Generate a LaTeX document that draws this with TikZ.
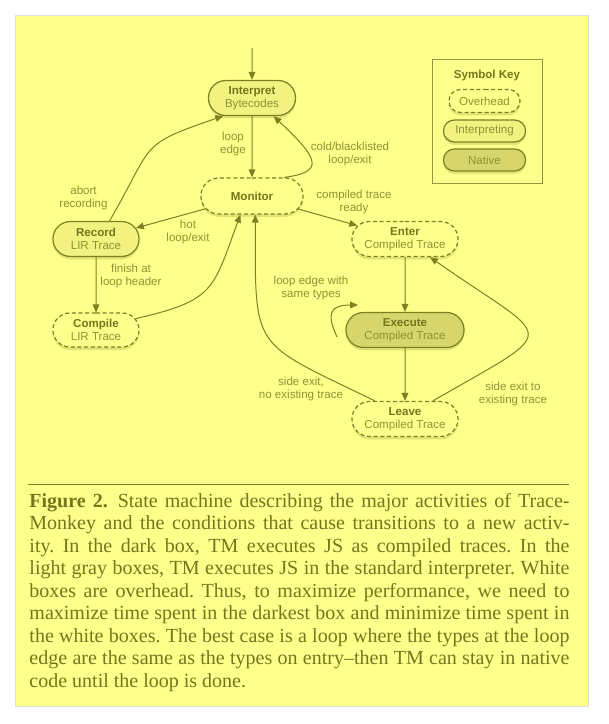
\documentclass[tikz,border=0pt]{standalone}
\usepackage{fontspec}
\setmainfont{Liberation Serif}
\setsansfont{Liberation Sans}
\usetikzlibrary{arrows.meta,shapes.misc,shadows}

\definecolor{bgyellow}{RGB}{255,255,140}
\definecolor{oliveline}{RGB}{128,128,35}
\definecolor{olivetext}{RGB}{118,118,28}
\definecolor{olivesoft}{RGB}{145,145,50}
\definecolor{interpfill}{RGB}{242,242,128}
\definecolor{nativefill}{RGB}{214,214,108}

\begin{document}
\begin{tikzpicture}[x=0.45pt, y=0.45pt,
    state/.style={rounded rectangle, draw=oliveline, line width=0.55pt, minimum height=15.75pt,
        inner xsep=2pt, inner ysep=1pt, align=center, text=olivetext,
        font=\sffamily\fontsize{5.2}{5.9}\selectfont,
        drop shadow={shadow xshift=0pt, shadow yshift=-1.3pt, fill=oliveline, opacity=0.22}},
    overheadbox/.style={state, fill=bgyellow, dash pattern=on 1.8pt off 1.2pt},
    interpbox/.style={state, fill=interpfill},
    nativebox/.style={state, fill=nativefill},
    lbl/.style={align=center, text=olivesoft, inner sep=0pt, font=\sffamily\fontsize{5.2}{5.9}\selectfont},
    arr/.style={-{Triangle[length=3.6pt, width=3pt]}, draw=oliveline, line width=0.45pt}
]
    % Page and yellow panel
    \useasboundingbox (0,0) rectangle (608,-724);
    \fill[white] (0,0) rectangle (608,-724);
    \draw[gray!25, fill=bgyellow] (15,-15) rectangle (588,-706);

    % The states
    \node[interpbox, minimum width=43.2pt] (interp) at (252,-98) {\textbf{Interpret}\\\textcolor{olivesoft}{Bytecodes}};
    \node[overheadbox, minimum width=50pt, minimum height=16.2pt] (monitor) at (252,-196) {\textbf{Monitor}};
    \node[interpbox, minimum width=42.75pt] (record) at (96,-239) {\textbf{Record}\\\textcolor{olivesoft}{LIR Trace}};
    \node[overheadbox, minimum width=42.75pt, minimum height=15.3pt] (compile) at (96,-330) {\textbf{Compile}\\\textcolor{olivesoft}{LIR Trace}};
    \node[overheadbox, minimum width=51.75pt] (enter) at (405,-239) {\textbf{Enter}\\\textcolor{olivesoft}{Compiled Trace}};
    \node[nativebox, minimum width=57.15pt] (execute) at (405,-330) {\textbf{Execute}\\\textcolor{olivesoft}{Compiled Trace}};
    \node[overheadbox, minimum width=51.75pt] (leave) at (405,-419) {\textbf{Leave}\\\textcolor{olivesoft}{Compiled Trace}};

    % Symbol key
    \draw[oliveline!85, line width=0.4pt] (432,-59) rectangle (542,-183);
    \node[lbl, text=olivetext] (keytitle) at (487,-76) {\textbf{Symbol Key}};
    \node[overheadbox, minimum width=36pt, minimum height=10.35pt] (keyover) at (484.5,-101) {\textcolor{olivesoft}{Overhead}};
    \node[interpbox, minimum width=41pt, minimum height=9.9pt] (keyinterp) at (484.5,-131) {\textcolor{olivesoft}{Interpreting}};
    \node[nativebox, minimum width=41pt, minimum height=9.9pt] (keynative) at (484.5,-160) {\textcolor{olivesoft}{Native}};

    % Transitions
    \coordinate (entry) at (252,-48);
    \draw[arr] (entry) -- (interp);
    \draw[arr] (interp) -- (monitor);
    \draw[arr] (monitor.30) .. controls (326,-172) and (318,-158) .. (interp.-40);
    \draw[arr] (record.53) to[out=60, in=-161, looseness=1.5] (interp.-148);
    \draw[arr] (monitor) -- (record);
    \draw[arr] (monitor) -- (enter);
    \draw[arr] (record) -- (compile);
    \draw[arr] (compile.16) to[out=13, in=-110, looseness=1.4] (monitor.-122);
    \draw[arr] (enter) -- (execute);
    \draw[arr] (execute) -- (leave);
    \draw[arr] (leave.149) to[out=154, in=-90, looseness=1.6] (monitor.-80);
    \draw[arr] (leave.33) to[out=30, in=-35, looseness=2.7] (enter.-36);
    \coordinate (selfstart) at (337,-337);
    \coordinate (selfend) at (358,-305);
    \draw[arr] (selfstart) to[out=115, in=180, looseness=1.8] (selfend);

    % Transition labels
    \node[lbl] (lloopedge) at (233,-144) {loop\\edge};
    \node[lbl] (lcold) at (350,-154) {cold/blacklisted\\loop/exit};
    \node[lbl] (labort) at (83.5,-198) {abort\\recording};
    \node[lbl] (lready) at (354,-202) {compiled trace\\ready};
    \node[lbl] (lhot) at (188,-232) {hot\\loop/exit};
    \node[lbl] (lfinish) at (131,-276) {finish at\\loop header};
    \node[lbl] (lsame) at (311,-288) {loop edge with\\same types};
    \node[lbl] (lnoexist) at (301,-389) {side exit,\\no existing trace};
    \node[lbl] (lexist) at (513,-394) {side exit to\\existing trace};

    % Caption
    \draw[oliveline, line width=0.45pt] (28,-484) -- (569,-484);
    \node[anchor=base west, text width=243pt, inner sep=0pt, align=justify, text=olivetext,
          font=\fontsize{9}{10.125}\selectfont] (caption) at (29,-507)
        {\frenchspacing\hyphenpenalty=10000\tolerance=9999\textbf{Figure 2.}\enskip State machine describing the major activities of Trace-\linebreak
         Monkey and the conditions that cause transitions to a new activ-\linebreak
         ity. In the dark box, TM executes JS as compiled traces. In the\linebreak
         light gray boxes, TM executes JS in the standard interpreter. White\linebreak
         boxes are overhead. Thus, to maximize performance, we need to\linebreak
         maximize time spent in the darkest box and minimize time spent in\linebreak
         the white boxes. The best case is a loop where the types at the loop\linebreak
         edge are the same as the types on entry--then TM can stay in native\linebreak
         code until the loop is done.};
\end{tikzpicture}
\end{document}
